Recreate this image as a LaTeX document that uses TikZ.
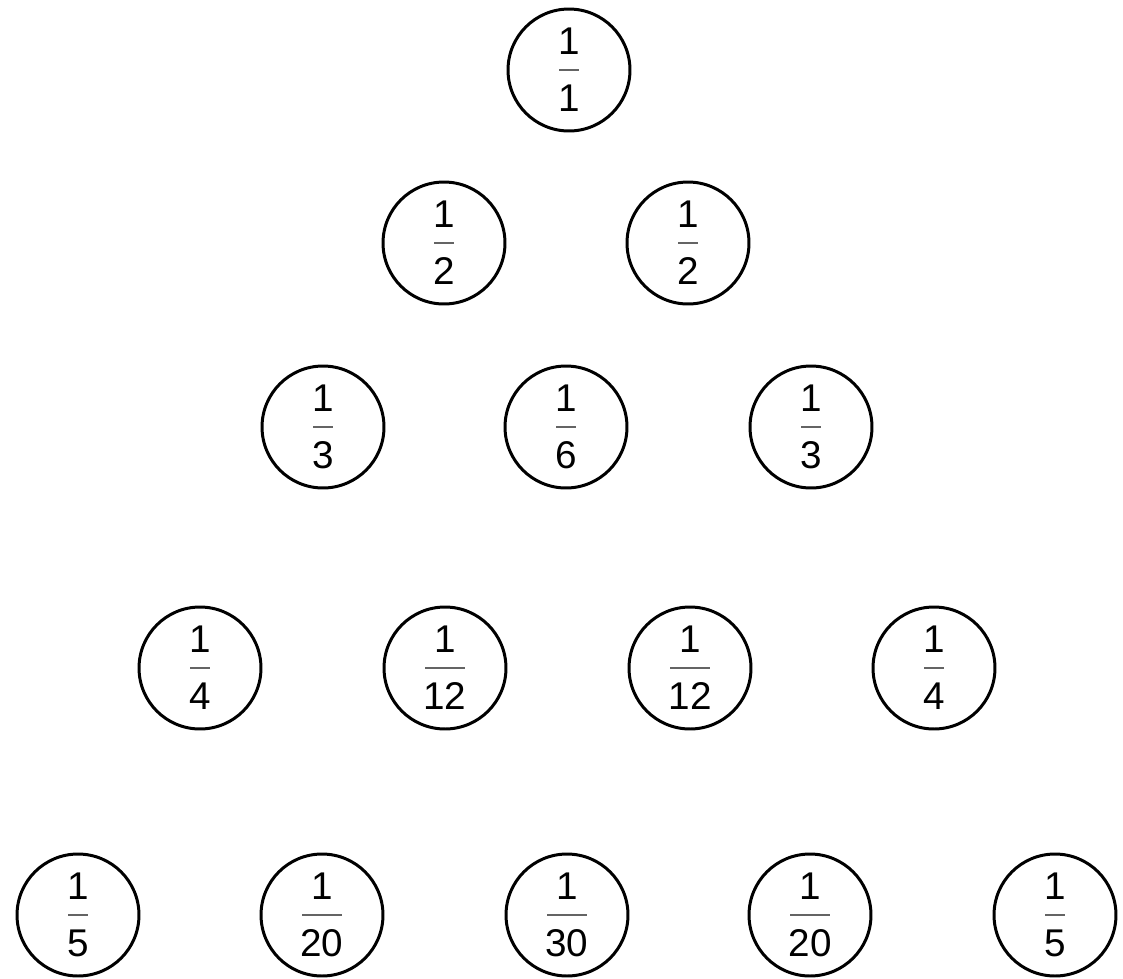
\documentclass[tikz,border=0pt]{standalone}
\usepackage{fontspec}
\setmainfont{Liberation Sans}
\usetikzlibrary{positioning}
\definecolor{barc}{RGB}{100,100,100}
\newlength{\fracw}
\newcommand{\hfont}{\fontsize{22pt}{16.15pt}\selectfont\setlength{\lineskiplimit}{-40pt}}
\newcommand{\hfrac}[2]{#1\\\raisebox{7pt}[0pt][0pt]{\settowidth{\fracw}{#2}\textcolor{barc}{\rule{0.93\fracw}{0.9pt}}}\\#2}

\begin{document}
\begin{tikzpicture}[x=0.02cm,y=-0.02cm,
  hcell/.style={circle,draw,line width=1.7pt,minimum size=2.44cm,inner sep=0pt,align=center,
    font=\hfont}]
  \useasboundingbox (0,0) rectangle (1123,978);
  % row 1
  \node[hcell] (h11) at (569,70) {\hfrac{1}{1}};
  % row 2
  \node[hcell] (h21) at (444,243) {\hfrac{1}{2}};
  \node[hcell] (h22) at (688,243) {\hfrac{1}{2}};
  % row 3
  \node[hcell] (h31) at (323,427) {\hfrac{1}{3}};
  \node[hcell] (h32) at (566,427) {\hfrac{1}{6}};
  \node[hcell] (h33) at (811,427) {\hfrac{1}{3}};
  % row 4
  \node[hcell] (h41) at (200,668) {\hfrac{1}{4}};
  \node[hcell] (h42) at (445,668) {\hfrac{1}{12}};
  \node[hcell] (h43) at (690,668) {\hfrac{1}{12}};
  \node[hcell] (h44) at (934,668) {\hfrac{1}{4}};
  % row 5
  \node[hcell] (h51) at (78,915) {\hfrac{1}{5}};
  \node[hcell] (h52) at (322,915) {\hfrac{1}{20}};
  \node[hcell] (h53) at (567,915) {\hfrac{1}{30}};
  \node[hcell] (h54) at (810,915) {\hfrac{1}{20}};
  \node[hcell] (h55) at (1055,915) {\hfrac{1}{5}};
\end{tikzpicture}
\end{document}
